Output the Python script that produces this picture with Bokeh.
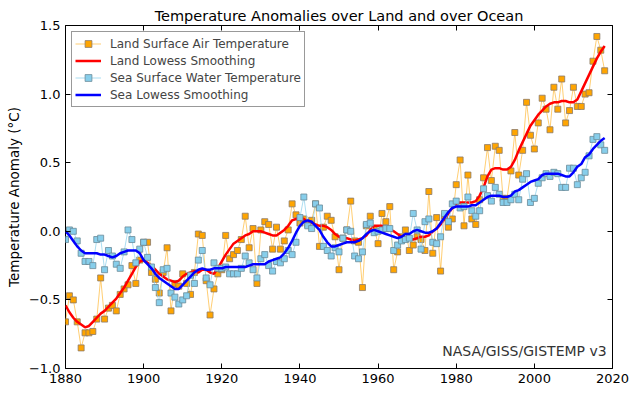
from bokeh.plotting import figure
from bokeh.models import (ColumnDataSource, Range1d, FixedTicker, Legend, LegendItem,
                          LinearAxis, Label)
from bokeh.embed import file_html
from bokeh.resources import INLINE

years = list(range(1880, 2019))

land = [-0.66, -0.47, -0.50, -0.66, -0.85, -0.74, -0.74, -0.73, -0.64, -0.34,
        -0.64, -0.56, -0.54, -0.58, -0.46, -0.42, -0.39, -0.25, -0.38, -0.21,
        -0.08, -0.08, -0.30, -0.35, -0.45, -0.30, -0.12, -0.58, -0.38, -0.40,
        -0.31, -0.38, -0.46, -0.30, -0.02, -0.03, -0.36, -0.61, -0.42, -0.31,
        -0.28, -0.03, -0.20, -0.17, -0.14, -0.06, 0.11, -0.12, 0.02, -0.38,
        0.01, 0.07, 0.05, -0.13, 0.03, -0.13, -0.07, 0.01, 0.20, 0.12,
        0.06, 0.09, 0.05, 0.08, 0.20, -0.11, 0.03, 0.11, 0.08, -0.04,
        -0.28, -0.05, 0.01, 0.22, -0.07, -0.08, -0.41, 0.04, 0.11, 0.02,
        -0.09, 0.13, 0.07, 0.18, -0.28, -0.15, -0.04, 0.01, -0.14, -0.10,
        -0.04, -0.06, -0.14, 0.29, -0.16, 0.10, -0.29, 0.11, 0.03, 0.09,
        0.34, 0.52, 0.04, 0.41, 0.09, 0.05, 0.23, 0.39, 0.61, 0.37,
        0.62, 0.59, 0.24, 0.24, 0.44, 0.72, 0.41, 0.59, 0.94, 0.70,
        0.60, 0.79, 0.97, 0.89, 0.74, 1.05, 0.89, 1.11, 0.79, 0.88,
        1.05, 0.91, 0.91, 1.00, 1.01, 1.24, 1.42, 1.32, 1.17]

land_smooth = [-0.54, -0.59, -0.63, -0.66, -0.68, -0.70, -0.69, -0.66, -0.63, -0.60,
               -0.58, -0.55, -0.52, -0.49, -0.45, -0.41, -0.36, -0.31, -0.26, -0.22,
               -0.21, -0.23, -0.25, -0.28, -0.31, -0.33, -0.35, -0.36, -0.37, -0.36,
               -0.33, -0.31, -0.30, -0.29, -0.30, -0.28, -0.28, -0.30, -0.31, -0.27,
               -0.22, -0.17, -0.13, -0.09, -0.07, -0.05, -0.03, -0.02, 0.00, 0.00,
               0.00, -0.01, -0.02, -0.03, -0.03, -0.01, 0.01, 0.04, 0.08, 0.09,
               0.10, 0.09, 0.07, 0.06, 0.05, 0.04, 0.04, 0.03, 0.01, -0.02,
               -0.04, -0.05, -0.05, -0.06, -0.07, -0.06, -0.05, -0.03, 0.01, 0.04,
               0.04, 0.04, 0.02, 0.01, 0.00, -0.02, -0.04, -0.05, -0.06, -0.06,
               -0.05, -0.04, -0.04, -0.03, 0.00, 0.02, 0.05, 0.09, 0.13, 0.17,
               0.20, 0.21, 0.21, 0.21, 0.21, 0.22, 0.26, 0.32, 0.40, 0.45,
               0.46, 0.46, 0.45, 0.45, 0.47, 0.52, 0.59, 0.65, 0.71, 0.77,
               0.81, 0.85, 0.88, 0.91, 0.93, 0.94, 0.94, 0.95, 0.95, 0.94,
               0.94, 0.96, 1.02, 1.08, 1.14, 1.20, 1.26, 1.31, 1.35]

sea = [-0.06, 0.01, 0.00, -0.07, -0.16, -0.22, -0.22, -0.25, -0.06, -0.05,
       -0.28, -0.14, -0.18, -0.24, -0.27, -0.15, 0.01, -0.06, -0.23, -0.13,
       -0.08, -0.19, -0.26, -0.41, -0.52, -0.28, -0.27, -0.45, -0.48, -0.53,
       -0.50, -0.47, -0.32, -0.38, -0.21, -0.14, -0.34, -0.39, -0.23, -0.27,
       -0.27, -0.26, -0.31, -0.31, -0.31, -0.27, -0.18, -0.23, -0.28, -0.34,
       -0.20, -0.17, -0.25, -0.29, -0.22, -0.23, -0.20, -0.14, -0.17, -0.08,
       0.10, 0.25, 0.04, 0.02, 0.20, 0.17, -0.11, -0.14, -0.18, -0.12,
       -0.15, -0.05, 0.01, 0.00, -0.18, -0.20, -0.15, 0.05, 0.06, -0.01,
       0.00, 0.01, 0.02, 0.02, -0.14, -0.10, -0.07, -0.06, -0.05, 0.13,
       0.01, -0.13, 0.07, 0.09, -0.08, -0.09, -0.04, 0.13, 0.07, 0.20,
       0.22, 0.17, 0.18, 0.25, 0.15, 0.11, 0.15, 0.31, 0.26, 0.22,
       0.32, 0.27, 0.21, 0.21, 0.23, 0.27, 0.23, 0.38, 0.42, 0.21,
       0.24, 0.35, 0.39, 0.42, 0.40, 0.43, 0.42, 0.32, 0.32, 0.46,
       0.46, 0.34, 0.39, 0.43, 0.55, 0.67, 0.69, 0.63, 0.59]

sea_smooth = [0.00, -0.03, -0.07, -0.11, -0.14, -0.16, -0.16, -0.16, -0.16, -0.17,
              -0.17, -0.18, -0.19, -0.18, -0.16, -0.15, -0.14, -0.14, -0.14, -0.16,
              -0.21, -0.24, -0.27, -0.31, -0.34, -0.36, -0.38, -0.40, -0.42, -0.42,
              -0.39, -0.36, -0.33, -0.30, -0.28, -0.27, -0.28, -0.28, -0.27, -0.27,
              -0.27, -0.26, -0.26, -0.26, -0.26, -0.26, -0.26, -0.25, -0.24, -0.24,
              -0.24, -0.24, -0.22, -0.21, -0.20, -0.19, -0.16, -0.12, -0.07, -0.01,
              0.04, 0.07, 0.08, 0.07, 0.04, 0.01, -0.04, -0.08, -0.11, -0.11,
              -0.10, -0.09, -0.08, -0.08, -0.08, -0.07, -0.05, -0.02, 0.00, 0.01,
              0.00, -0.01, -0.02, -0.03, -0.04, -0.05, -0.04, -0.02, -0.02, 0.00,
              0.01, 0.00, -0.01, -0.01, 0.00, 0.02, 0.06, 0.10, 0.14, 0.17,
              0.18, 0.18, 0.18, 0.18, 0.19, 0.19, 0.21, 0.23, 0.25, 0.26,
              0.26, 0.26, 0.25, 0.25, 0.26, 0.29, 0.30, 0.32, 0.34, 0.36,
              0.37, 0.38, 0.41, 0.42, 0.42, 0.42, 0.42, 0.41, 0.40, 0.40,
              0.43, 0.47, 0.49, 0.54, 0.56, 0.60, 0.63, 0.66, 0.68]

x_ticks = [1880, 1900, 1920, 1940, 1960, 1980, 2000, 2020]
y_ticks = [-1.0, -0.5, 0.0, 0.5, 1.0, 1.5]
y_tick_labels = ["\u22121.0", "\u22120.5", "0.0", "0.5", "1.0", "1.5"]

src = ColumnDataSource(dict(year=years, land=land, land_smooth=land_smooth,
                            sea=sea, sea_smooth=sea_smooth))

FONT = "DejaVu Sans"

p = figure(width=640, height=396, output_backend="svg", toolbar_location=None,
           x_range=Range1d(1880, 2020), y_range=Range1d(-1.0, 1.5),
           min_border_left=65, min_border_right=28, min_border_top=25,
           min_border_bottom=28)
p.background_fill_color = "white"
p.border_fill_color = "white"
p.outline_line_color = "black"
p.outline_line_width = 1
p.xgrid.visible = False
p.ygrid.visible = False

p.title.text = "Temperature Anomalies over Land and over Ocean"
p.title.align = "center"
p.title.text_font = FONT
p.title.text_font_style = "normal"
p.title.text_font_size = "14.5px"
p.title.text_color = "black"
p.title.standoff = 4

for ax in (p.xaxis[0], p.yaxis[0]):
    ax.major_tick_in = 5
    ax.major_tick_out = 0
    ax.minor_tick_in = 0
    ax.minor_tick_out = 0
    ax.axis_line_color = None
    ax.major_tick_line_color = "black"
    ax.major_label_text_font = FONT
    ax.major_label_text_font_size = "13px"
    ax.major_label_text_color = "black"
    ax.major_label_standoff = 5

p.xaxis[0].ticker = FixedTicker(ticks=x_ticks)
p.yaxis[0].ticker = FixedTicker(ticks=y_ticks)
p.yaxis[0].major_label_overrides = {t: l for t, l in zip(y_ticks, y_tick_labels)}
p.yaxis[0].axis_label = "Temperature Anomaly (\u00b0C)"
p.yaxis[0].axis_label_text_font = FONT
p.yaxis[0].axis_label_text_font_style = "normal"
p.yaxis[0].axis_label_text_font_size = "13.5px"
p.yaxis[0].axis_label_text_color = "black"
p.yaxis[0].axis_label_standoff = 4

# mirrored inward ticks on top and right (matplotlib classic style), no labels
top = LinearAxis(ticker=FixedTicker(ticks=x_ticks),
                 major_label_overrides={t: "" for t in x_ticks},
                 major_label_standoff=0, major_tick_in=5, major_tick_out=0,
                 minor_tick_in=0, minor_tick_out=0, axis_line_color=None)
right = LinearAxis(ticker=FixedTicker(ticks=y_ticks),
                   major_label_overrides={t: "" for t in y_ticks},
                   major_label_standoff=0, major_tick_in=5, major_tick_out=0,
                   minor_tick_in=0, minor_tick_out=0, axis_line_color=None)
p.add_layout(top, "above")
p.add_layout(right, "right")

land_line = p.line("year", "land", source=src, line_color="orange", line_alpha=0.55,
                   line_width=1)
land_pts = p.scatter("year", "land", source=src, marker="square", size=6,
                     fill_color="orange", line_color="#8a7a6a", line_width=0.8)
land_sm = p.line("year", "land_smooth", source=src, line_color="red", line_width=2.5)
sea_line = p.line("year", "sea", source=src, line_color="#87CEEB", line_alpha=0.7,
                  line_width=1)
sea_pts = p.scatter("year", "sea", source=src, marker="square", size=6,
                    fill_color="#87CEEB", line_color="#6a8a98", line_width=0.8)
sea_sm = p.line("year", "sea_smooth", source=src, line_color="blue", line_width=2.5)

legend = Legend(items=[
    LegendItem(label="Land Surface Air Temperature", renderers=[land_line, land_pts]),
    LegendItem(label="Land Lowess Smoothing", renderers=[land_sm]),
    LegendItem(label="Sea Surface Water Temperature", renderers=[sea_line, sea_pts]),
    LegendItem(label="Sea Lowess Smoothing", renderers=[sea_sm]),
], location="top_left")
legend.margin = 6
legend.padding = 3
legend.spacing = 0
legend.label_text_font = FONT
legend.label_text_font_size = "12px"
legend.label_height = 17
legend.glyph_height = 17
legend.glyph_width = 26
legend.label_standoff = 9
legend.border_line_color = "#333333"
legend.border_line_width = 1
legend.background_fill_color = "white"
legend.background_fill_alpha = 1
p.add_layout(legend)

note = Label(x=2018.5, y=-0.87, text="NASA/GISS/GISTEMP v3", text_align="right",
             text_baseline="middle", text_font=FONT, text_font_size="14px",
             text_color="#333333")
p.add_layout(note)

open("out.html", "w").write(file_html(p, INLINE))
